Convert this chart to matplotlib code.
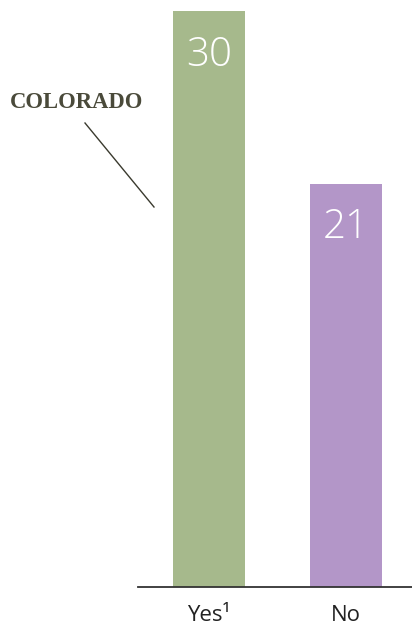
import matplotlib
matplotlib.use("Agg")
import matplotlib.pyplot as plt

categories = ["Yes", "No"]
tick_labels = ["Yes\u00b9", "No"]
values = [30, 21]
colors = ["#a6b98c", "#b396c8"]

W, H = 412, 629
fig = plt.figure(figsize=(W / 100, H / 100), dpi=100)
left_px, right_px, top_px, base_px = 138, 412, 11, 587
ax = fig.add_axes([left_px / W, (H - base_px) / H, (right_px - left_px) / W, (base_px - top_px) / H])

x = list(range(len(categories)))
bars = ax.bar(x, values, width=0.526, color=colors)
ax.set_ylim(0, 30)
ax.set_xlim(-0.518, 1.482)

for xi, v in zip(x, values):
    ax.text(xi, v - 2.3, str(v), ha="center", va="center", color="white",
            fontsize=29, family="Open Sans", fontweight="light")

for s in ["top", "right", "left"]:
    ax.spines[s].set_visible(False)
ax.spines["bottom"].set_color("#333333")
ax.spines["bottom"].set_linewidth(1.3)
ax.set_yticks([])
ax.set_xticks(x)
ax.set_xticklabels(tick_labels, fontsize=16, family="Open Sans", color="#222222")
ax.tick_params(axis="x", length=0, pad=13)

fig.text(10 / W, 1 - 103 / H, "COLORADO", family="Liberation Serif", fontweight="bold",
         fontsize=16.3, color="#4a4a3a", ha="left", va="center")
fig.add_artist(plt.Line2D([85 / W, 154 / W], [1 - 123 / H, 1 - 207 / H],
                          transform=fig.transFigure, color="#3a3a2e", linewidth=1))

fig.savefig("out.png", dpi=100)
